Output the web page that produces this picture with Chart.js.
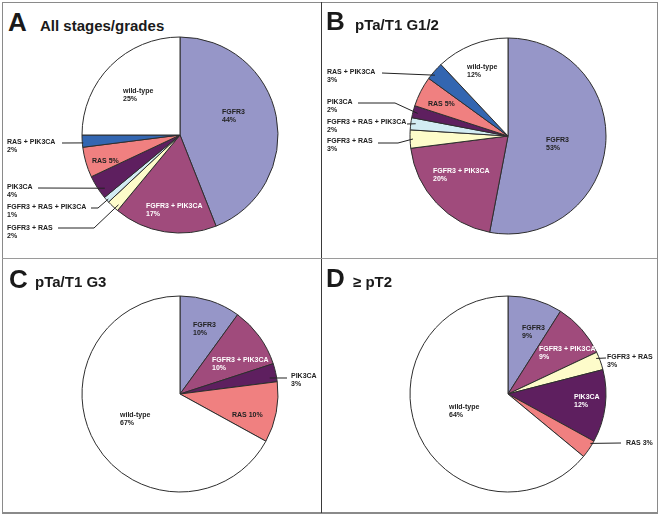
<!DOCTYPE html>
<html>
<head>
<meta charset="utf-8">
<script src="https://cdn.jsdelivr.net/npm/chart.js@4/dist/chart.umd.min.js"></script>
<style>
  html, body { margin: 0; padding: 0; background: #fff; }
  #wrap { position: relative; width: 661px; height: 516px; overflow: hidden; }
  canvas { position: absolute; left: 0; top: 0; pointer-events: none; }
  .frame { position: absolute; left: 2px; top: 2px; width: 654px; height: 509px;
           border: 1px solid #8a8a8a; border-bottom-width: 2px; box-sizing: content-box; }
  .vline { position: absolute; left: 321px; top: 2px; width: 1px; height: 511px; background: #3a3a3a; }
  .hline { position: absolute; left: 2px; top: 258px; width: 655px; height: 1px; background: #9a9a9a; }
  .letter { position: absolute; font: bold 26px "Liberation Sans", Arial, sans-serif; line-height: 26px; color: #1a1a1a; white-space: nowrap; }
  .title { position: absolute; font: bold 15px "Liberation Sans", Arial, sans-serif; line-height: 15px; color: #1a1a1a; white-space: nowrap; }
</style>
</head>
<body>
<div id="wrap">
  <div class="frame"></div>
  <div class="vline"></div>
  <div class="hline"></div>
</div>
<script>
// ---------------- data ----------------
const categories = ['FGFR3', 'FGFR3 + PIK3CA', 'FGFR3 + RAS', 'FGFR3 + RAS + PIK3CA',
                    'PIK3CA', 'RAS', 'RAS + PIK3CA', 'wild-type'];
const valuesA = [44, 17, 2, 1, 4, 5, 2, 25];   // All stages/grades
const valuesB = [53, 20, 3, 2, 2, 5, 3, 12];   // pTa/T1 G1/2
const valuesC = [10, 10, 0, 0, 3, 10, 0, 67];  // pTa/T1 G3
const valuesD = [9, 9, 3, 0, 12, 3, 0, 64];    // >= pT2
const panelLetters = ['A', 'B', 'C', 'D'];
const panelTitles = ['All stages/grades', 'pTa/T1 G1/2', 'pTa/T1 G3', '\u2265 pT2'];

// ---------------- styling ----------------
const sliceColors = {
  'FGFR3': '#9696c8',
  'FGFR3 + PIK3CA': '#a04b7c',
  'FGFR3 + RAS': '#fdfcca',
  'FGFR3 + RAS + PIK3CA': '#d2ecf3',
  'PIK3CA': '#5e1f5f',
  'RAS': '#f08080',
  'RAS + PIK3CA': '#3366b1',
  'wild-type': '#ffffff'
};
const LABEL_FONT = 'bold 7px "Liberation Sans", Arial, sans-serif';
const LINE_H = 8.5;

// layout of each panel (positions only)
const layouts = [
  { center: [180, 135],
    titleLetter: [8, 31], titleText: [40, 31],
    inside: [
      { name: 'wild-type', dx: -57, dy: -44 },
      { name: 'FGFR3', dx: 42, dy: -23 },
      { name: 'FGFR3 + PIK3CA', dx: -34, dy: 71, color: '#ffffff' },
      { name: 'RAS', dx: -88, dy: 26, inline: true }
    ],
    outside: [
      { name: 'RAS + PIK3CA', x: 7, y: 142, path: [[62, 143]], t: 0.35, r: 0.99 },
      { name: 'PIK3CA', x: 7, y: 187, path: [[38, 188]], t: 0.3, r: 0.94 },
      { name: 'FGFR3 + RAS + PIK3CA', x: 7, y: 207, path: [[91, 208], [98, 208]], t: 0.4, r: 0.98 },
      { name: 'FGFR3 + RAS', x: 7, y: 228, path: [[58, 228], [94, 228]], t: 0.25, r: 0.95 }
    ] },
  { center: [508, 136],
    titleLetter: [326, 30], titleText: [355, 30],
    inside: [
      { name: 'wild-type', dx: -41, dy: -69 },
      { name: 'FGFR3', dx: 38, dy: 4 },
      { name: 'FGFR3 + PIK3CA', dx: -75, dy: 35, color: '#ffffff' },
      { name: 'RAS', dx: -80, dy: -32, inline: true }
    ],
    outside: [
      { name: 'RAS + PIK3CA', x: 327, y: 72, path: [[382, 73]], t: 0.35, r: 0.97 },
      { name: 'PIK3CA', x: 327, y: 102, path: [[358, 103], [395, 103]], t: 0.45, r: 0.95 },
      { name: 'FGFR3 + RAS + PIK3CA', x: 327, y: 122, path: [[407, 124]], t: 0.55, r: 0.95 },
      { name: 'FGFR3 + RAS', x: 327, y: 141, path: [[378, 143], [398, 143]], t: 0.5, r: 0.97 }
    ] },
  { center: [180, 394],
    titleLetter: [9, 288], titleText: [35, 287],
    inside: [
      { name: 'FGFR3', dx: 13, dy: -69 },
      { name: 'FGFR3 + PIK3CA', dx: 32, dy: -34, color: '#ffffff' },
      { name: 'RAS', dx: 52, dy: 21, inline: true },
      { name: 'wild-type', dx: -60, dy: 21 }
    ],
    outside: [
      { name: 'PIK3CA', x: 291, y: 376, path: [[287, 378]], t: 0.73, r: 0.93 }
    ] },
  { center: [508, 394],
    titleLetter: [326, 287], titleText: [353, 287],
    inside: [
      { name: 'FGFR3', dx: 14, dy: -66 },
      { name: 'FGFR3 + PIK3CA', dx: 31, dy: -45, color: '#ffffff' },
      { name: 'PIK3CA', dx: 66, dy: 3, color: '#ffffff' },
      { name: 'wild-type', dx: -59, dy: 13 }
    ],
    outside: [
      { name: 'FGFR3 + RAS', x: 607, y: 357, path: [[606, 358]], t: 0.3, r: 0.97 },
      { name: 'RAS', x: 626, y: 443, path: [[621, 443]], t: 0.2, r: 0.98, inline: true }
    ] }
];

const W = 661, H = 516, RADIUS = 98;
const wrap = document.getElementById('wrap');

function labelLines(name, value, inline) {
  return inline ? [name + ' ' + value + '%'] : [name, value + '%'];
}

const labelPlugin = {
  id: 'sliceLabels',
  afterDatasetsDraw(chart, args, opts) {
    const { layout, names, values } = opts;
    const ctx = chart.ctx;
    const meta = chart.getDatasetMeta(0);
    const arcs = meta.data;
    const cx = arcs[0].x, cy = arcs[0].y;
    ctx.save();
    ctx.font = LABEL_FONT;
    ctx.textBaseline = 'middle';
    ctx.textAlign = 'left';
    // inside labels
    layout.inside.forEach(l => {
      const i = names.indexOf(l.name);
      ctx.fillStyle = l.color || '#222222';
      labelLines(l.name, values[i], l.inline).forEach((s, k) => {
        ctx.fillText(s, cx + l.dx, cy + l.dy + k * LINE_H);
      });
    });
    // outside labels with leader lines
    layout.outside.forEach(l => {
      const i = names.indexOf(l.name);
      const arc = arcs[i];
      const a = arc.startAngle + l.t * (arc.endAngle - arc.startAngle);
      const rr = l.r * arc.outerRadius;
      const end = [arc.x + rr * Math.cos(a), arc.y + rr * Math.sin(a)];
      ctx.strokeStyle = '#222222';
      ctx.lineWidth = 1;
      ctx.beginPath();
      const pts = l.path.concat([end]);
      ctx.moveTo(pts[0][0], pts[0][1]);
      for (let k = 1; k < pts.length; k++) ctx.lineTo(pts[k][0], pts[k][1]);
      ctx.stroke();
      ctx.fillStyle = '#222222';
      labelLines(l.name, values[i], l.inline).forEach((s, k) => {
        ctx.fillText(s, l.x, l.y + k * LINE_H);
      });
    });
    ctx.restore();
  }
};

const allValues = [valuesA, valuesB, valuesC, valuesD];

allValues.forEach((vals, p) => {
  const layout = layouts[p];
  const names = [], values = [];
  vals.forEach((v, i) => { if (v > 0) { names.push(categories[i]); values.push(v); } });

  // titles as real text
  const L = document.createElement('div');
  L.className = 'letter';
  L.textContent = panelLetters[p];
  L.style.left = layout.titleLetter[0] + 'px';
  L.style.top = (layout.titleLetter[1] - 22) + 'px';
  wrap.appendChild(L);
  const T = document.createElement('div');
  T.className = 'title';
  T.textContent = panelTitles[p];
  T.style.left = layout.titleText[0] + 'px';
  T.style.top = (layout.titleText[1] - 12.7) + 'px';
  wrap.appendChild(T);

  const cv = document.createElement('canvas');
  cv.width = W; cv.height = H;
  cv.style.width = W + 'px'; cv.style.height = H + 'px';
  wrap.appendChild(cv);

  const [cx, cy] = layout.center;
  new Chart(cv.getContext('2d'), {
    type: 'pie',
    data: {
      labels: names,
      datasets: [{
        data: values,
        backgroundColor: names.map(n => sliceColors[n]),
        borderColor: '#2e2e2e',
        borderWidth: 1,
        radius: RADIUS
      }]
    },
    options: {
      responsive: false,
      animation: false,
      devicePixelRatio: 1,
      layout: { padding: { left: cx - 100, right: W - (cx + 100), top: cy - 100, bottom: H - (cy + 100) } },
      plugins: {
        legend: { display: false },
        tooltip: { enabled: false },
        sliceLabels: { layout, names, values }
      },
      events: []
    },
    plugins: [labelPlugin]
  });
});
</script>
</body>
</html>
